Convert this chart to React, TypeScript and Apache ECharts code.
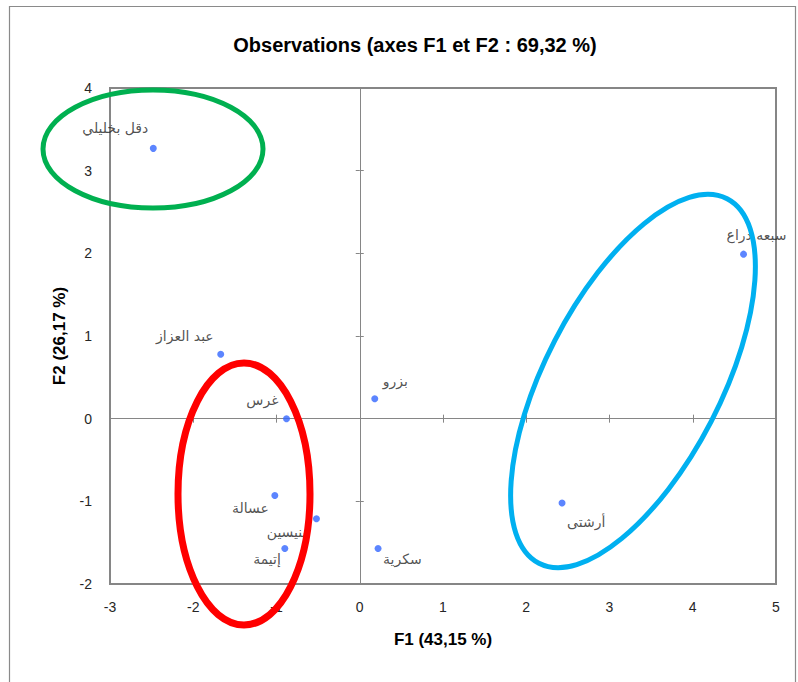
import React, { useEffect, useRef } from "react";
import * as echarts from "echarts";

const names = ["دقل بخليلي", "سبعه دراع", "عبد العزاز", "بزرو", "غرس", "عسالة", "بنيسين", "إتيمة", "سكرية", "أرشتى"];
const f1Values = [-2.48, 4.61, -1.67, 0.18, -0.88, -1.02, -0.52, -0.9, 0.22, 2.43];
const f2Values = [3.27, 1.99, 0.78, 0.24, 0.0, -0.93, -1.21, -1.57, -1.57, -1.02];
const xTicks = { min: -3, max: 5, interval: 1 };
const yTicks = { min: -2, max: 4, interval: 1 };

// label placement (styling): [dx, dy, align] relative to the point centre
const labelPlacement: [number, number, string][] = [
  [-5, -20, "right"],
  [13, -19, "center"],
  [-7, -18, "right"],
  [8, -18, "left"],
  [-8, -19, "right"],
  [-6, 12, "right"],
  [-10, 13, "right"],
  [-4, 11, "right"],
  [5, 11, "left"],
  [5, 19, "left"],
];

const SYM = 7;

export default function App() {
  const ref = useRef<HTMLDivElement>(null);
  useEffect(() => {
    if (!ref.current) return;
    const chart = echarts.init(ref.current, null, { renderer: "svg" });
    const grey = "#868686";
    const tickLabel = { fontFamily: "Liberation Sans", fontSize: 14, color: "#262626" };
    const nameStyle = { fontFamily: "Liberation Sans", fontWeight: "bold", fontSize: 17, color: "#000" };
    const data = names.map((n, i) => ({
      name: n,
      value: [f1Values[i], f2Values[i]],
      label: {
        position: [SYM / 2 + labelPlacement[i][0], SYM / 2 + labelPlacement[i][1]],
        align: labelPlacement[i][2],
        verticalAlign: "middle",
      },
    }));
    chart.setOption({
      animation: false,
      backgroundColor: "#fff",
      title: {
        text: "Observations (axes F1 et F2 : 69,32 %)",
        left: 410,
        top: 30,
        textAlign: "center",
        textStyle: { fontFamily: "Liberation Sans", fontWeight: "bold", fontSize: 20, color: "#000" },
      },
      grid: {
        left: 110,
        right: 22,
        top: 88,
        bottom: 98,
        show: true,
        borderColor: grey,
        borderWidth: 2,
        backgroundColor: "transparent",
      },
      xAxis: [
        {
          type: "value",
          ...xTicks,
          position: "bottom",
          axisLine: { show: false, onZero: false },
          axisTick: { show: false },
          splitLine: { show: false },
          axisLabel: { ...tickLabel, margin: 16 },
          name: "F1 (43,15 %)",
          nameLocation: "middle",
          nameGap: 47,
          nameTextStyle: nameStyle,
        },
        {
          type: "value",
          ...xTicks,
          axisLine: { show: true, onZero: true, onZeroAxisIndex: 0, lineStyle: { color: grey, width: 1 } },
          axisTick: { show: true, inside: true, length: 4, lineStyle: { color: grey } },
          axisLabel: { show: false },
          splitLine: { show: false },
        },
        {
          type: "value",
          ...xTicks,
          axisLine: { show: false, onZero: true, onZeroAxisIndex: 0 },
          axisTick: { show: true, inside: false, length: 4, lineStyle: { color: grey } },
          axisLabel: { show: false },
          splitLine: { show: false },
        },
      ],
      yAxis: [
        {
          type: "value",
          ...yTicks,
          position: "left",
          axisLine: { show: false, onZero: false },
          axisTick: { show: false },
          splitLine: { show: false },
          axisLabel: { ...tickLabel, margin: 18 },
          name: "F2 (26,17 %)",
          nameLocation: "middle",
          nameGap: 42,
          nameTextStyle: nameStyle,
        },
        {
          type: "value",
          ...yTicks,
          axisLine: { show: true, onZero: true, onZeroAxisIndex: 0, lineStyle: { color: grey, width: 1 } },
          axisTick: { show: true, inside: true, length: 4, lineStyle: { color: grey } },
          axisLabel: { show: false },
          splitLine: { show: false },
        },
        {
          type: "value",
          ...yTicks,
          axisLine: { show: false, onZero: true, onZeroAxisIndex: 0 },
          axisTick: { show: true, inside: false, length: 4, lineStyle: { color: grey } },
          axisLabel: { show: false },
          splitLine: { show: false },
        },
      ],
      series: [
        {
          type: "scatter",
          xAxisIndex: 0,
          yAxisIndex: 0,
          symbol: "circle",
          symbolSize: SYM,
          itemStyle: { color: "#3366ff" },
          label: {
            show: true,
            formatter: "{b}",
            fontFamily: "DejaVu Sans",
            fontSize: 14,
            color: "#262626",
          },
          emphasis: { disabled: true },
          data,
          z: 5,
        },
      ],
      graphic: [
        {
          type: "rect",
          shape: { x: 9.5, y: 6.5, width: 786, height: 720 },
          style: { fill: "none", stroke: "#8a8a8a", lineWidth: 1.2 },
          silent: true,
          z: 1,
        },
        {
          type: "ellipse",
          x: 153,
          y: 149,
          shape: { cx: 0, cy: 0, rx: 110, ry: 59 },
          style: { fill: "none", stroke: "#00B050", lineWidth: 5 },
          silent: true,
          z: 100,
        },
        {
          type: "ellipse",
          x: 244,
          y: 494,
          shape: { cx: 0, cy: 0, rx: 66, ry: 131 },
          style: { fill: "none", stroke: "#FF0000", lineWidth: 7 },
          silent: true,
          z: 100,
        },
        {
          type: "ellipse",
          x: 633,
          y: 381,
          rotation: (62.7 * Math.PI) / 180,
          shape: { cx: 0, cy: 0, rx: 205, ry: 88 },
          style: { fill: "none", stroke: "#00B0F0", lineWidth: 5 },
          silent: true,
          z: 100,
        },
      ],
    });
    return () => chart.dispose();
  }, []);
  return (
    <div
      ref={ref}
      style={{ position: "fixed", left: 0, top: 0, width: 798, height: 682 }}
    />
  );
}
